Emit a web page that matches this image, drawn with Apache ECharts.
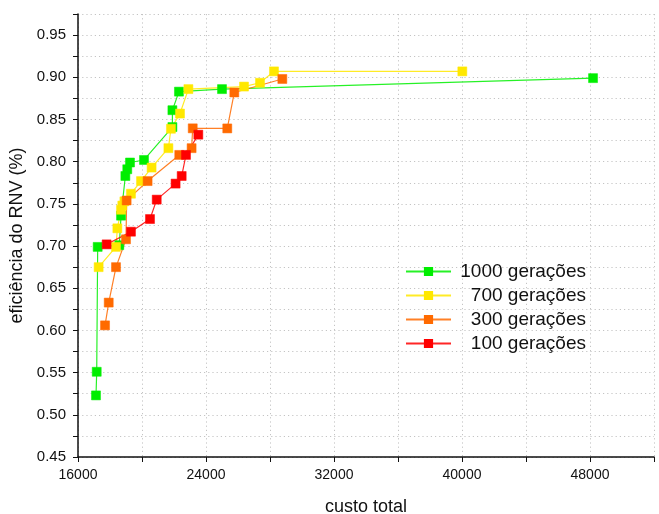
<!DOCTYPE html>
<html>
<head>
    <meta charset="utf-8">
    <title>ECharts</title>
    <script src="https://cdn.jsdelivr.net/npm/echarts@6/dist/echarts.min.js"></script>
    <style>
      html,body{margin:0;padding:0;background:#fff}
      #main{width:659px;height:514px}
    </style>
</head>
<body>
    <div id="main"></div>
    <script type="text/javascript">

// custo total / eficiência do RNV
let names = ['1000 gerações', '700 gerações', '300 gerações', '100 gerações']
let colors = ['#00ee00', '#ffe800', '#ff6a00', '#ff0000']

let g1000_x = [17125, 17170, 17230, 18580, 18690, 18960, 19080, 19250, 20125, 21900, 21900, 22310, 25000, 48190]
let g1000_y = [0.523, 0.551, 0.699, 0.701, 0.736, 0.783, 0.791, 0.799, 0.802, 0.841, 0.861, 0.883, 0.886, 0.899]

let g700_x = [17290, 18375, 18460, 18690, 18770, 18900, 19310, 19940, 20600, 21650, 21810, 22375, 22900, 26375, 27375, 28250, 40020]
let g700_y = [0.675, 0.699, 0.721, 0.743, 0.748, 0.753, 0.762, 0.777, 0.793, 0.816, 0.839, 0.857, 0.886, 0.889, 0.8935, 0.907, 0.907]

let g300_x = [17690, 17920, 18375, 19000, 19040, 20350, 22330, 23100, 23170, 25330, 25770, 28770]
let g300_y = [0.606, 0.633, 0.675, 0.708, 0.754, 0.777, 0.808, 0.816, 0.8395, 0.8394, 0.882, 0.898]

let g100_x = [17790, 19310, 20500, 20920, 22100, 22480, 22750, 23520]
let g100_y = [0.702, 0.717, 0.732, 0.755, 0.774, 0.783, 0.808, 0.832]

let xs = [g1000_x, g700_x, g300_x, g100_x]
let ys = [g1000_y, g700_y, g300_y, g100_y]

let font = 'Liberation Sans, Arial, sans-serif'
let gridLine = {color: '#c4c4c4', type: [1.2, 3], width: 1}

let series = names.map((n, i) => ({
    name: n,
    type: 'line',
    symbol: 'rect',
    symbolSize: 9,
    data: xs[i].map((x, j) => [x, ys[i][j]]),
    itemStyle: {color: colors[i], borderColor: colors[i], borderWidth: 0.5},
    lineStyle: {color: colors[i], width: 1.2, opacity: 0.85},
    emphasis: {disabled: true}
}))

var option = {
    animation: false,
    textStyle: {fontFamily: font},
    grid: {left: 78, right: 5, top: 14, bottom: 57, containLabel: false, outerBoundsMode: 'none'},
    legend: {
        orient: 'vertical',
        left: 400,
        top: 257,
        itemWidth: 45,
        itemHeight: 9,
        itemGap: 5,
        data: names,
        formatter: '{n|{name}}',
        textStyle: {
            fontFamily: font,
            rich: {n: {width: 130, align: 'right', fontSize: 19, color: '#111', fontFamily: font}}
        }
    },
    xAxis: {
        type: 'value',
        min: 16000,
        max: 52000,
        interval: 4000,
        name: 'custo total',
        nameLocation: 'middle',
        nameGap: 41,
        nameTextStyle: {fontSize: 18, color: '#111', fontFamily: font},
        axisLine: {lineStyle: {color: '#111', width: 1.5}},
        axisTick: {length: 5, lineStyle: {color: '#111', width: 1}},
        axisLabel: {
            fontSize: 14, color: '#111', margin: 11, fontFamily: font,
            formatter: v => (v % 8000 === 0 && v < 52000) ? String(v) : ''
        },
        splitLine: {show: true, lineStyle: gridLine}
    },
    yAxis: {
        type: 'value',
        min: 0.45,
        max: 0.975,
        interval: 0.025,
        name: 'eficiência do RNV (%)',
        nameLocation: 'middle',
        nameGap: 52,
        nameTextStyle: {fontSize: 18, color: '#111', fontFamily: font},
        axisLine: {show: true, lineStyle: {color: '#111', width: 1.5}},
        axisTick: {show: true, length: 5, lineStyle: {color: '#111', width: 1}},
        axisLabel: {
            fontSize: 15, color: '#111', margin: 12, fontFamily: font,
            formatter: v => {
                let k = Math.round(v * 1000)
                return (k % 50 === 0 && k < 975) ? v.toFixed(2) : ''
            }
        },
        splitLine: {show: true, lineStyle: gridLine}
    },
    series: series
}

echarts.init(document.getElementById('main')).setOption(option)

    </script>
</body>
</html>
